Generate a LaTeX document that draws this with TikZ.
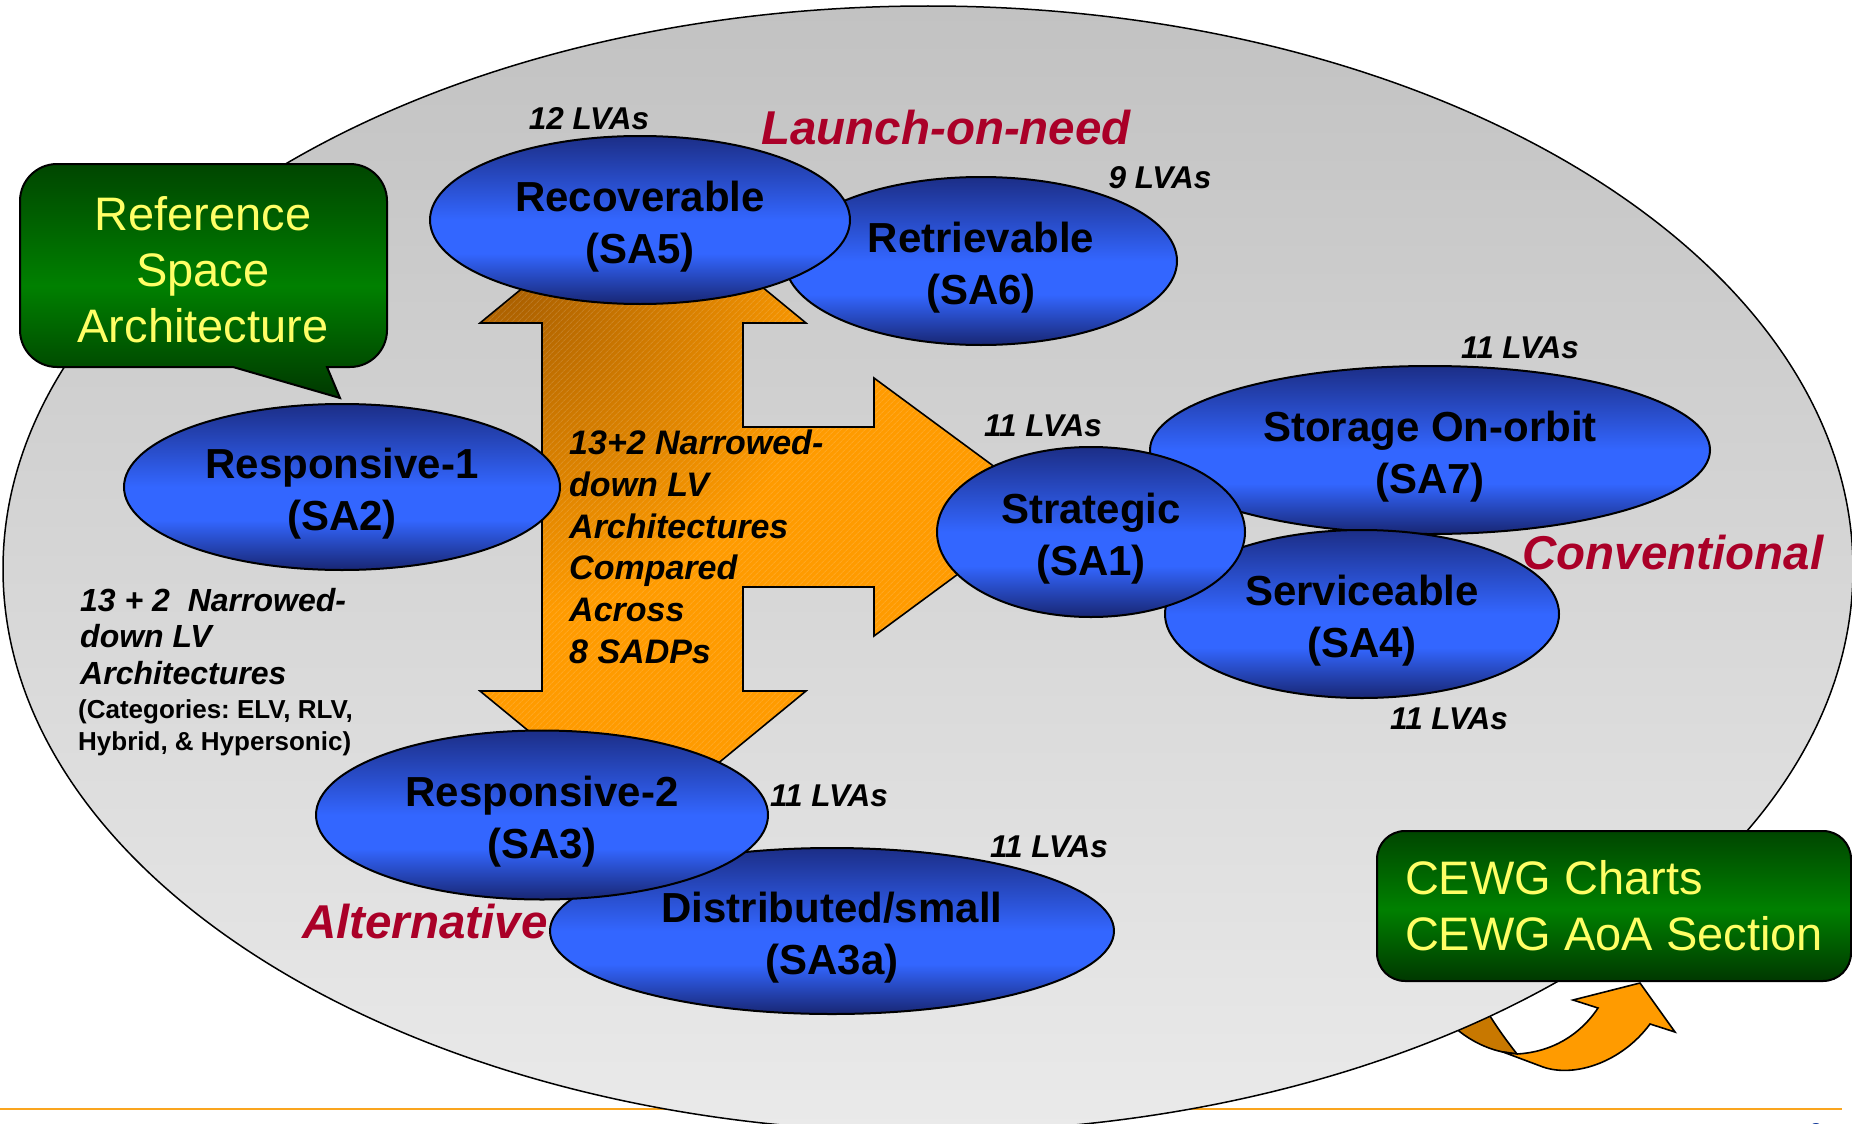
\documentclass[tikz,border=0pt]{standalone}
\usepackage{fontspec}
\setmainfont{Liberation Sans}
\usetikzlibrary{shapes.geometric,patterns.meta}
\frenchspacing

% palette
\definecolor{bTop}{RGB}{28,46,135}
\definecolor{bMid}{RGB}{51,102,255}
\definecolor{bBot}{RGB}{24,38,115}
\definecolor{gTop}{RGB}{0,70,0}
\definecolor{gMid}{RGB}{0,128,0}
\definecolor{gBot}{RGB}{0,56,0}
\definecolor{fieldTop}{RGB}{194,194,194}
\definecolor{fieldBot}{RGB}{234,234,234}
\definecolor{amber}{RGB}{255,155,0}
\definecolor{amberDark}{RGB}{168,94,0}
\definecolor{ribbonDark}{RGB}{200,120,0}
\definecolor{lemon}{RGB}{255,255,102}
\definecolor{famred}{RGB}{170,0,40}
\definecolor{rulecol}{RGB}{250,165,30}
\definecolor{pageblue}{RGB}{10,50,150}

% vertical fills: the 25bp..75bp band spans the shape from bottom to top
\pgfdeclareverticalshading{blueegg}{100bp}{color(0bp)=(bBot); color(25bp)=(bBot); color(40bp)=(bMid); color(50bp)=(bMid); color(75bp)=(bTop); color(100bp)=(bTop)}
\pgfdeclareverticalshading{leafbox}{100bp}{color(0bp)=(gBot); color(25bp)=(gBot); color(49bp)=(gMid); color(75bp)=(gTop); color(100bp)=(gTop)}

% two-line ellipse label, set slightly low in its ellipse
\newcommand\twoline[2]{\rule{0pt}{43pt}#1\\#2}

\tikzset{
  sa/.style={ellipse, shade, shading=blueegg, draw=black, line width=2pt,
    inner sep=0pt, align=center, font=\fontsize{42}{52}\selectfont\bfseries},
  lva/.style={inner sep=0pt, font=\fontsize{31.5}{36}\selectfont\bfseries\itshape},
  family/.style={inner sep=0pt, text=famred, font=\fontsize{47.5}{56}\selectfont\bfseries\itshape},
  greenbox/.style={shade, shading=leafbox, draw=black, line width=2pt, text=lemon,
    font=\fontsize{47}{56}\selectfont},
  outline/.style={draw=black, line width=1.6pt, line join=miter},
}

% four-way block arrow (up, right, down)
\newcommand\crossarrowpath{(643,189) -- (806,323) -- (743,323) -- (743,427) -- (874,427) -- (874,378)
  -- (1049,507) -- (874,636) -- (874,587) -- (743,587) -- (743,691) -- (806,691) -- (643,825)
  -- (480,691) -- (542,691) -- (542,323) -- (480,323) -- cycle}

\begin{document}
\begin{tikzpicture}[x=1pt,y=-1pt]
\useasboundingbox (0,0) rectangle (1852,1124);
\fill[white] (0,0) rectangle (1852,1124);

% footer rule and page number
\draw[rulecol, line width=2pt] (0,1109) -- (1842,1109);
\node[inner sep=0pt, text=pageblue, font=\fontsize{20}{24}\selectfont\bfseries] (pagenum) at (1816,1131) {8};

% curved ribbon arrow towards the CEWG box (its tail runs under the field)
\fill[ribbonDark, outline] (1445,1018) .. controls (1465,1040) and (1488,1049) .. (1503,1052)
  -- (1517,1054) .. controls (1506,1040) and (1495,1025) .. (1482,1003) -- cycle;
\fill[amber, outline] (1503,1052) -- (1543,1067) .. controls (1575,1078) and (1622,1062) .. (1650,1024)
  -- (1675,1032) -- (1640,983) -- (1573,1000) -- (1598,1008)
  .. controls (1580,1035) and (1552,1052) .. (1517,1054) -- cycle;

% the architecture field
\node[ellipse, shade, top color=fieldTop, bottom color=fieldBot, draw=black, line width=1.5pt,
  minimum width=1850pt, minimum height=1126pt, inner sep=0pt] (field) at (928,569) {};

% callout
\shade[shading=leafbox, outline, line width=2pt]
  (57,164) -- (350,164) .. controls (370.4,164) and (387,180.6) .. (387,201)
  -- (387,330) .. controls (387,350.4) and (370.4,367) .. (350,367)
  -- (327,367) -- (340,398) -- (233,367) -- (57,367)
  .. controls (36.6,367) and (20,350.4) .. (20,330) -- (20,201)
  .. controls (20,180.6) and (36.6,164) .. (57,164) -- cycle;
\node[inner sep=0pt, align=center, text=lemon, font=\fontsize{47}{56}\selectfont] (reftext)
  at (203,270) {Reference\\Space\\Architecture};

% block arrow with shaded corner and fine hatching
\fill[amber] \crossarrowpath;
\begin{scope}
  \clip \crossarrowpath;
  \shade[inner color=amberDark, outer color=amber] (505,285) circle [radius=330pt];
  \fill[pattern={Lines[angle=45,distance=4pt,line width=0.9pt]}, pattern color=white, fill opacity=0.13]
    (470,180) rectangle (1060,835);
\end{scope}
\draw[outline] \crossarrowpath;
\node[anchor=north west, align=left, inner sep=0pt,
  font=\fontsize{34}{41.7}\selectfont\bfseries\itshape] (compare) at (569,430)
  {13+2 Narrowed-\\down LV\\Architectures\\Compared\\Across\\8 SADPs};

% launch-on-need group
\node[sa, minimum width=392pt, minimum height=168pt] (sa6) at (981,261) {\twoline{Retrievable}{(SA6)}};
\node[sa, minimum width=420pt, minimum height=168pt] (sa5) at (640,220) {\twoline{Recoverable}{(SA5)}};
% responsive-1
\node[sa, minimum width=436pt, minimum height=166pt] (sa2) at (342,487) {\twoline{Responsive-1}{(SA2)}};
% conventional group
\node[sa, minimum width=560pt, minimum height=168pt] (sa7) at (1430,450) {\twoline{Storage On-orbit}{(SA7)}};
\node[sa, minimum width=394pt, minimum height=168pt] (sa4) at (1362,614) {\twoline{Serviceable}{(SA4)}};
\node[sa, minimum width=308pt, minimum height=170pt] (sa1) at (1091,532) {\twoline{Strategic}{(SA1)}};
% alternative group
\node[sa, minimum width=564pt, minimum height=166pt] (sa3a) at (832,931) {\twoline{Distributed/small}{(SA3a)}};
\node[sa, minimum width=452pt, minimum height=169pt] (sa3) at (542,815) {\twoline{Responsive-2}{(SA3)}};

% vehicle counts
\node[lva] (lva5) at (589,119) {12 LVAs};
\node[lva] (lva6) at (1160,178) {9 LVAs};
\node[lva] (lva7) at (1520,348) {11 LVAs};
\node[lva] (lva1) at (1043,426) {11 LVAs};
\node[lva] (lva4) at (1449,719) {11 LVAs};
\node[lva] (lva3) at (829,796) {11 LVAs};
\node[lva] (lva3a) at (1049,847) {11 LVAs};

% family names
\node[family] (launch) at (946,128) {Launch-on-need};
\node[family] (conv) at (1673,553) {Conventional};
\node[family] (alt) at (425,922) {Alternative};

% left-hand notes
\node[anchor=north west, align=left, inner sep=0pt,
  font=\fontsize{32}{36.5}\selectfont\bfseries\itshape] (leftnote) at (80,588)
  {13 + 2\ \ Narrowed-\\down LV\\Architectures};
\node[anchor=north west, align=left, inner sep=0pt,
  font=\fontsize{26}{32}\selectfont\bfseries] (leftcats) at (78,699)
  {(Categories: ELV, RLV,\\Hybrid, \& Hypersonic)};

% CEWG box
\node[greenbox, rounded corners=28pt, anchor=west, align=left, inner xsep=26pt,
  minimum width=474pt, minimum height=150pt] (cewg) at (1376,906)
  {CEWG Charts\\CEWG AoA Section};
\end{tikzpicture}
\end{document}
